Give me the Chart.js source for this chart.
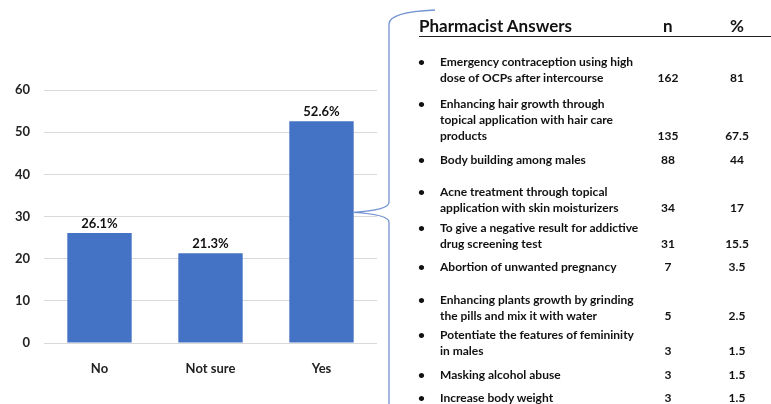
<!DOCTYPE html>
<html>
<head>
<meta charset="utf-8">
<script src="https://cdn.jsdelivr.net/npm/chart.js@4.4.1/dist/chart.umd.min.js"></script>
<style>
  body { margin: 0; background: #fff; font-family: Lato, sans-serif; }
  #wrap { position: relative; width: 771px; height: 404px; overflow: hidden; }
  #chart { position: absolute; left: 0; top: 0; }
  .txt { position: absolute; color: #111; font-weight: bold; }
  #head { left: 419px; top: 15px; font-size: 17px; width: 352px; height: 21px; border-bottom: 1.5px solid #222; }
  .row { position: absolute; left: 0; width: 771px; font-size: 12px; line-height: 16px; font-weight: bold; color: #111; }
  .row .b { position: absolute; left: 418px; top: 0; }
  .row .l { position: absolute; left: 440px; top: 0; white-space: pre; }
  .row .n, .row .p { position: absolute; bottom: 0; width: 40px; text-align: center; }
</style>
</head>
<body>
<div id="wrap">
  <canvas id="chart" width="771" height="404"></canvas>
  <div id="table"></div>
</div>
<script>
// bar chart data
var categories = ['No', 'Not sure', 'Yes']
var values = [26.1, 21.3, 52.6]
var yTicks = [0, 10, 20, 30, 40, 50, 60]

// table data
var answers = [
    'Emergency contraception using high\ndose of OCPs after intercourse',
    'Enhancing hair growth through\ntopical application with hair care\nproducts',
    'Body building among males',
    'Acne treatment through topical\napplication with skin moisturizers',
    'To give a negative result for addictive\ndrug screening test',
    'Abortion of unwanted pregnancy',
    'Enhancing plants growth by grinding\nthe pills and mix it with water',
    'Potentiate the features of femininity\nin males',
    'Masking alcohol abuse',
    'Increase body weight'
]
var counts = ['162', '135', '88', '34', '31', '7', '5', '3', '3', '3']
var percents = ['81', '67.5', '44', '17', '15.5', '3.5', '2.5', '1.5', '1.5', '1.5']

// layout of table rows (top of first line)
var rowTop = [54, 96, 152, 184, 220, 259, 292, 327, 367, 390]

var html = '<div class="txt" id="head">Pharmacist Answers' +
    '<span style="position:absolute;left:244px;top:0">n</span>' +
    '<span style="position:absolute;left:311px;top:0">%</span></div>'
for (var i = 0; i < answers.length; i++) {
    var lines = answers[i].split('\n').length
    html += '<div class="row" style="top:' + rowTop[i] + 'px;height:' + (lines * 16) + 'px">' +
        '<span class="b">&bull;</span>' +
        '<span class="l">' + answers[i] + '</span>' +
        '<span class="n" style="left:648px">' + counts[i] + '</span>' +
        '<span class="p" style="left:717px">' + percents[i] + '</span></div>'
}
document.getElementById('table').innerHTML = html

// curly brace pointing at the Yes bar
const bracePlugin = {
    id: 'brace',
    afterDraw(chart) {
        const ctx = chart.ctx
        const y = chart.scales.y
        const tipY = y.getPixelForValue(31)
        const tipX = chart.chartArea.right - 24
        ctx.save()
        ctx.strokeStyle = '#7493d3'
        ctx.lineWidth = 1.3
        ctx.beginPath()
        ctx.moveTo(435, 10)
        ctx.quadraticCurveTo(389, 12, 389, 24)
        ctx.lineTo(389, tipY - 10)
        ctx.quadraticCurveTo(389, tipY - 2, tipX, tipY)
        ctx.quadraticCurveTo(389, tipY + 2, 389, tipY + 10)
        ctx.lineTo(389, 410)
        ctx.stroke()
        ctx.restore()
    }
}

// value labels above bars
const labelPlugin = {
    id: 'valueLabels',
    afterDatasetsDraw(chart) {
        const ctx = chart.ctx
        const meta = chart.getDatasetMeta(0)
        ctx.save()
        ctx.font = "bold 13px Lato, sans-serif"
        ctx.fillStyle = '#111'
        ctx.textAlign = 'center'
        ctx.textBaseline = 'bottom'
        meta.data.forEach(function(bar, i) {
            ctx.fillText(values[i].toFixed(1) + '%', bar.x, bar.y - 3)
        })
        ctx.restore()
    }
}

const ctx = document.getElementById('chart').getContext('2d')
const config = {
    type: 'bar',
    data: {
        labels: categories,
        datasets: [{
            data: values,
            backgroundColor: '#4472C4',
            borderWidth: 0,
            categoryPercentage: 1,
            barPercentage: 0.58
        }]
    },
    options: {
        responsive: false,
        animation: false,
        layout: {
            padding: { top: 90, right: 394, left: 0, bottom: 0 }
        },
        plugins: {
            legend: { display: false },
            tooltip: { enabled: false }
        },
        scales: {
            x: {
                grid: { display: false },
                border: { display: false },
                ticks: {
                    color: '#222',
                    font: { family: 'Lato', size: 13, weight: 'bold' },
                    padding: 10
                },
                afterFit: function(scale) { scale.height = 61 }
            },
            y: {
                min: 0,
                max: 60,
                afterBuildTicks: function(scale) {
                    scale.ticks = yTicks.map(function(v) { return { value: v } })
                },
                grid: { color: '#d9d9d9', drawTicks: false },
                border: { display: false },
                ticks: {
                    color: '#222',
                    font: { family: 'Lato', size: 13, weight: 'bold' },
                    padding: 14
                },
                afterFit: function(scale) { scale.width = 44 }
            }
        }
    },
    plugins: [labelPlugin, bracePlugin]
}
const myChart = new Chart(ctx, config)
</script>
</body>
</html>
